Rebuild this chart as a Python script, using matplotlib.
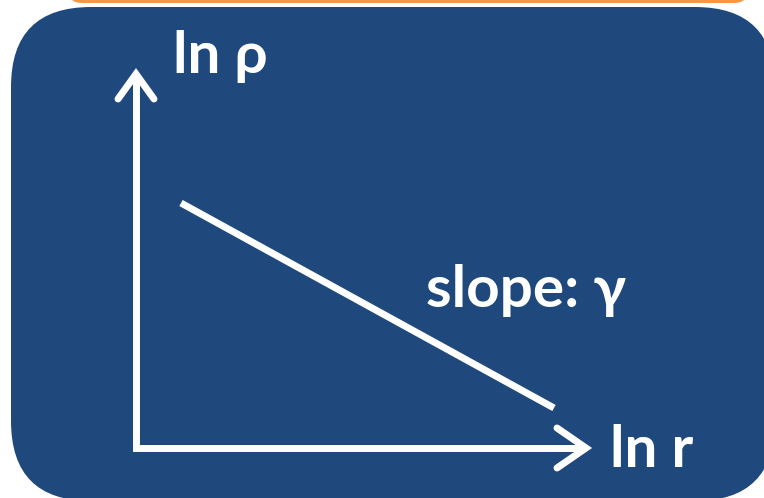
import matplotlib
matplotlib.use("Agg")
import matplotlib.pyplot as plt
from matplotlib.patches import FancyBboxPatch

# Schematic: log density vs log radius, a straight line of slope gamma
x_axis_label = "ln r"
y_axis_label = "ln ρ"
slope_label = "slope: γ"
line_x = [181, 554]
line_y = [203, 408]

BLUE = "#1F497D"
ORANGE = "#F79646"
FONT = "Lato"

W, H = 764, 498
fig = plt.figure(figsize=(W / 100, H / 100), dpi=100)
ax = fig.add_axes([0, 0, 1, 1])
ax.set_xlim(0, W)
ax.set_ylim(H, 0)
ax.axis("off")

# orange panel above (only its lower edge is visible)
ax.add_patch(FancyBboxPatch((68, -80), 680, 83,
                            boxstyle="round,pad=0,rounding_size=14",
                            facecolor=ORANGE, edgecolor="none"))
# blue panel
ax.add_patch(FancyBboxPatch((11, 7), 764, 494,
                            boxstyle="round,pad=0,rounding_size=80",
                            facecolor=BLUE, edgecolor="none"))

lw = 5.0
kw = dict(color="white", lw=lw, solid_capstyle="butt", solid_joinstyle="miter")
# axes
ax.plot([136, 136, 586], [74, 448, 448], **kw)
# arrow heads
ax.plot([118, 136, 154], [99, 74, 99], color="white", lw=lw,
        solid_capstyle="round", solid_joinstyle="miter")
ax.plot([557, 586, 557], [428, 448, 468], color="white", lw=lw,
        solid_capstyle="round", solid_joinstyle="miter")
# the line
ax.plot(line_x, line_y, **kw)

tkw = dict(color="white", fontweight="bold", family=[FONT, "DejaVu Sans"],
           fontsize=42, va="baseline", ha="left")
ax.text(173, 73, y_axis_label, **tkw)
ax.text(426, 307, slope_label, **tkw)
ax.text(610, 467, x_axis_label, **tkw)

fig.savefig("out.png", dpi=100, facecolor="white")
